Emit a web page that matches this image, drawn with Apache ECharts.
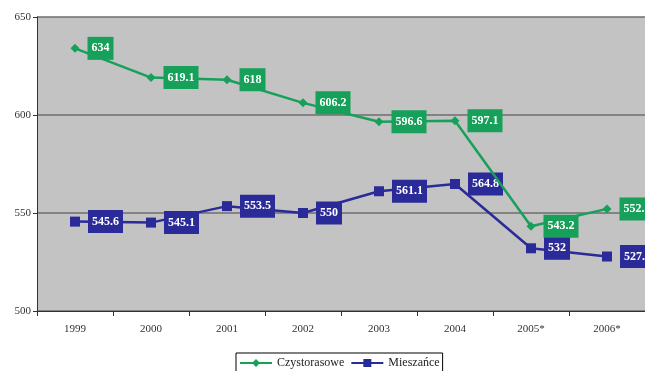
<!DOCTYPE html>
<html>
<head>
<meta charset="utf-8">
<script src="https://cdn.jsdelivr.net/npm/echarts@6/dist/echarts.min.js"></script>
<style>
  html, body { margin: 0; padding: 0; background: #fff; }
  #chart { width: 645px; height: 371px; }
</style>
</head>
<body>
<div id="chart"></div>
<script>
// lata
const years = ['1999', '2000', '2001', '2002', '2003', '2004', '2005*', '2006*'];
// wartosci serii
const czystorasowe = [634, 619.1, 618, 606.2, 596.6, 597.1, 543.2, 552.1];
const mieszance = [545.6, 545.1, 553.5, 550, 561.1, 564.8, 532, 527.8];

const GREEN = '#17a05a';
const BLUE = '#2a2a98';
const FONT = '"Liberation Serif", "DejaVu Serif", serif';

function labelFor(color) {
  return {
    show: true,
    position: 'right',
    distance: 8,
    color: '#fff',
    backgroundColor: color,
    fontFamily: FONT,
    fontSize: 12,
    fontWeight: 'bold',
    padding: [6, 4, 5, 4]
  };
}

const chart = echarts.init(document.getElementById('chart'));
chart.setOption({
  animation: false,
  grid: {
    left: 37, right: 0, top: 17, bottom: 60,
    show: true, backgroundColor: '#c3c3c3', borderWidth: 0
  },
  legend: {
    bottom: -4,
    left: 236,
    itemWidth: 32,
    itemHeight: 10,
    itemGap: 6,
    backgroundColor: '#fff',
    borderColor: '#000',
    borderWidth: 1,
    padding: [4, 3, 6, 3],
    textStyle: { fontFamily: FONT, fontSize: 12, color: '#222' },
    data: ['Czystorasowe', 'Mieszańce']
  },
  xAxis: {
    type: 'category',
    data: years,
    boundaryGap: true,
    axisLine: { lineStyle: { color: '#333', width: 1 } },
    axisTick: { show: true, length: 5, lineStyle: { color: '#333' } },
    axisLabel: { fontFamily: FONT, fontSize: 11, color: '#333', margin: 13 }
  },
  yAxis: {
    type: 'value',
    min: 500, max: 650, interval: 50,
    axisLine: { show: true, lineStyle: { color: '#333', width: 1 } },
    axisTick: { show: true, length: 4, lineStyle: { color: '#333' } },
    axisLabel: { fontFamily: FONT, fontSize: 11, color: '#333', margin: 6 },
    splitLine: { show: true, lineStyle: { color: '#6e6e6e', width: 1.5 } }
  },
  series: [
    {
      name: 'Czystorasowe',
      type: 'line',
      data: czystorasowe,
      symbol: 'diamond',
      symbolSize: 9,
      color: GREEN,
      lineStyle: { color: GREEN, width: 2.5 },
      itemStyle: { color: GREEN },
      label: labelFor(GREEN),
      z: 3
    },
    {
      name: 'Mieszańce',
      type: 'line',
      data: mieszance,
      symbol: 'rect',
      symbolSize: 10,
      color: BLUE,
      lineStyle: { color: BLUE, width: 2.5 },
      itemStyle: { color: BLUE },
      label: labelFor(BLUE),
      z: 2
    }
  ]
});
</script>
</body>
</html>
